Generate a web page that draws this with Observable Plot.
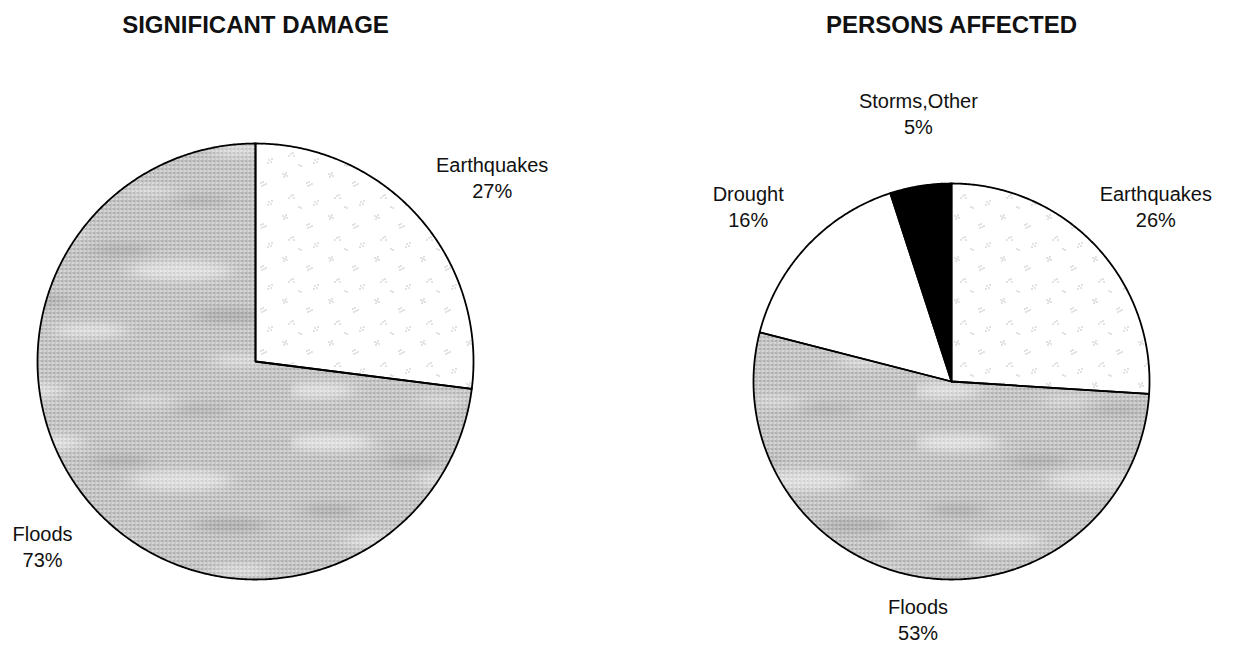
<!DOCTYPE html>
<html>
<head>
<meta charset="utf-8">
<script src="https://cdn.jsdelivr.net/npm/d3@7"></script>
<script src="https://cdn.jsdelivr.net/npm/@observablehq/plot@0.6"></script>
<style>
  html, body { margin: 0; padding: 0; background: #fff; }
  #wrap { display: flex; width: 1252px; height: 645px; overflow: hidden; }
  #wrap > div { width: 626px; height: 645px; }
  svg { font-family: "Liberation Sans", Arial, sans-serif; }
</style>
</head>
<body>
<svg width="0" height="0" style="position:absolute">
  <defs>
    <filter id="blur8" x="-50%" y="-50%" width="200%" height="200%"><feGaussianBlur stdDeviation="9 4"/></filter>
    <pattern id="flood" width="4" height="4" patternUnits="userSpaceOnUse">
      <rect width="4" height="4" fill="#d6d6d6"/>
      <rect x="0" y="0" width="3" height="1" fill="#888"/>
      <rect x="2" y="2" width="1" height="1" fill="#9a9a9a"/>
    </pattern>
    <pattern id="mottle" width="290" height="210" patternUnits="userSpaceOnUse">
      <g filter="url(#blur8)">
        <ellipse cx="40" cy="22" rx="44" ry="8" fill="#fff" opacity="0.5"/>
        <ellipse cx="180" cy="60" rx="52" ry="10" fill="#fff" opacity="0.45"/>
        <ellipse cx="90" cy="120" rx="38" ry="7" fill="#fff" opacity="0.45"/>
        <ellipse cx="240" cy="150" rx="30" ry="6" fill="#fff" opacity="0.4"/>
        <ellipse cx="30" cy="180" rx="34" ry="8" fill="#fff" opacity="0.45"/>
        <ellipse cx="150" cy="190" rx="26" ry="5" fill="#fff" opacity="0.35"/>
        <ellipse cx="120" cy="40" rx="30" ry="6" fill="#666" opacity="0.2"/>
        <ellipse cx="230" cy="105" rx="36" ry="7" fill="#666" opacity="0.2"/>
        <ellipse cx="40" cy="90" rx="28" ry="6" fill="#666" opacity="0.2"/>
        <ellipse cx="200" cy="200" rx="30" ry="5" fill="#666" opacity="0.18"/>
      </g>
    </pattern>
    <pattern id="quake" width="46" height="42" patternUnits="userSpaceOnUse">
      <rect width="46" height="42" fill="#fff"/>
      <g fill="#8f8f8f">
        <rect x="6" y="5" width="1" height="1"/><rect x="8" y="6" width="1" height="1"/><rect x="7" y="8" width="1" height="1"/><rect x="10" y="7" width="1" height="1"/><rect x="9" y="4" width="1" height="1"/>
        <rect x="30" y="14" width="1" height="1"/><rect x="32" y="13" width="1" height="1"/><rect x="33" y="16" width="1" height="1"/><rect x="31" y="17" width="1" height="1"/><rect x="35" y="15" width="1" height="1"/>
        <rect x="14" y="27" width="1" height="1"/><rect x="16" y="26" width="1" height="1"/><rect x="17" y="29" width="1" height="1"/><rect x="12" y="29" width="1" height="1"/>
        <rect x="38" y="33" width="1" height="1"/><rect x="40" y="35" width="1" height="1"/><rect x="37" y="36" width="1" height="1"/><rect x="41" y="32" width="1" height="1"/>
        <rect x="22" y="38" width="1" height="1"/><rect x="24" y="39" width="1" height="1"/>
      </g>
    </pattern>
  </defs>
</svg>
<div id="wrap"><div id="left"></div><div id="right"></div></div>
<script>
// ---- data ----
const titles = ["SIGNIFICANT DAMAGE", "PERSONS AFFECTED"];
const damageCategories = ["Earthquakes", "Floods"];
const damageValues = [27, 73];
const personsCategories = ["Earthquakes", "Floods", "Drought", "Storms,Other"];
const personsValues = [26, 53, 16, 5];

// ---- styles / layout ----
const fills = {
  "Earthquakes": "url(#quake)",
  "Floods": "url(#flood)",
  "Drought": "#ffffff",
  "Storms,Other": "#000000"
};
const layouts = [
  { el: "#left", cx: 255, cy: 361, r: 218, titleY: 25,
    labelK: [1.38, 1.29], nudge: [[11, 14], [-2, -2]] },
  { el: "#right", cx: 325, cy: 381, r: 198, titleY: 25,
    labelK: [1.36, 1.21, 1.36, 1.36], nudge: [[8, 9], [4, 1], [-7, 9], [9, -3]] }
];
const W = 626, H = 645;

function drawPie(title, cats, vals, L) {
  const rows = cats.map((c, i) => ({ c, v: vals[i] }));
  const arcs = d3.pie().sort(null).value(d => d.v)(rows);
  const pts = [];
  arcs.forEach(a => {
    const c = a.data.c;
    pts.push({ c, x: 0, y: 0, fill: fills[c] });
    const n = Math.max(2, Math.ceil((a.endAngle - a.startAngle) / (Math.PI / 360)));
    for (let i = 0; i <= n; i++) {
      const t = a.startAngle + (a.endAngle - a.startAngle) * i / n;
      pts.push({ c, x: Math.sin(t), y: Math.cos(t), fill: fills[c] });
    }
  });
  const labels = arcs.map((a, i) => {
    const m = (a.startAngle + a.endAngle) / 2;
    const k = L.labelK[i];
    return {
      text: `${a.data.c}\n${a.data.v}%`,
      x: k * Math.sin(m) + L.nudge[i][0] / L.r,
      y: k * Math.cos(m) - L.nudge[i][1] / L.r
    };
  });
  const plot = Plot.plot({
    width: W, height: H, margin: 0,
    x: { domain: [-L.cx / L.r, (W - L.cx) / L.r], axis: null },
    y: { domain: [-(H - L.cy) / L.r, L.cy / L.r], axis: null },
    color: { type: "identity" },
    marks: [
      Plot.line(pts, { x: "x", y: "y", z: "c", fill: "fill", stroke: "none", curve: "linear-closed" }),
      Plot.line(pts.filter(d => d.c === "Floods"), { x: "x", y: "y", z: "c", fill: "url(#mottle)", stroke: "none", curve: "linear-closed" }),
      Plot.line(pts, { x: "x", y: "y", z: "c", fill: "none", stroke: "#000", strokeWidth: 1.8, curve: "linear-closed", strokeLinejoin: "round" }),
      Plot.text(labels, { x: "x", y: "y", text: "text", fontSize: 20, lineHeight: 1.3, fill: "#111", textAnchor: "middle" }),
      Plot.text([title], { x: 0, y: (L.cy - L.titleY) / L.r, text: d => d, fontSize: 24, fontWeight: "bold", fill: "#111", textAnchor: "middle" })
    ]
  });
  plot.style.fontFamily = '"Liberation Sans", Arial, sans-serif';
  plot.style.overflow = "visible";
  document.querySelector(L.el).appendChild(plot);
}

drawPie(titles[0], damageCategories, damageValues, layouts[0]);
drawPie(titles[1], personsCategories, personsValues, layouts[1]);
</script>
</body>
</html>
